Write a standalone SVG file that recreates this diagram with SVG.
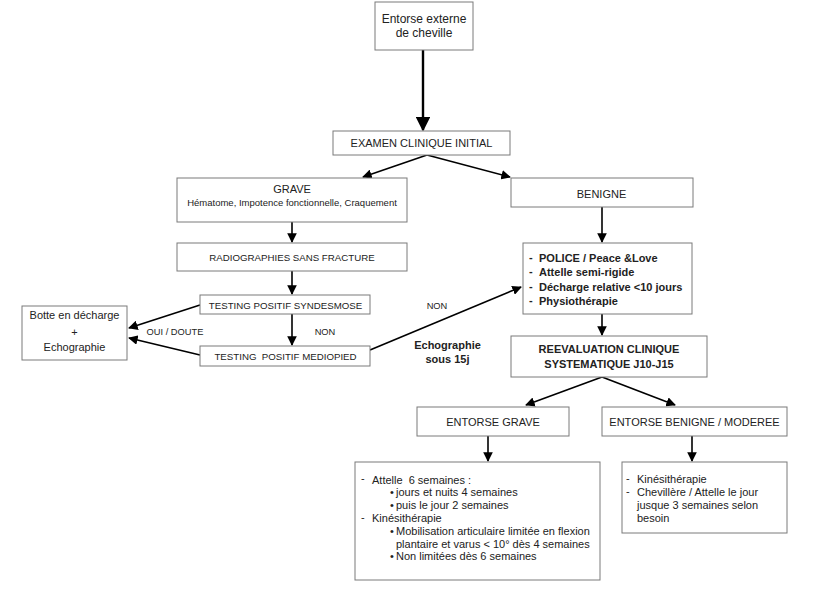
<svg xmlns="http://www.w3.org/2000/svg" width="820" height="600" viewBox="0 0 820 600">
<style>
  rect.box { fill: #ffffff; stroke: #7a7a7a; stroke-width: 1; }
  text { font-family: "Liberation Sans", Arial, Helvetica, sans-serif; fill: #222; }
  .t12 { font-size: 12px; }
  .t11 { font-size: 11px; }
  .t10 { font-size: 9.7px; }
  .t9 { font-size: 9.3px; }
  .b { font-weight: bold; font-size: 11px; }
  .c { text-anchor: middle; }
  .pre { white-space: pre; }
  .conn line { stroke: #000; stroke-width: 1.6; marker-end: url(#ah); }
</style>
<defs>
  <marker id="ah" viewBox="0 0 10 10" refX="9" refY="5" markerWidth="6" markerHeight="6" orient="auto" markerUnits="strokeWidth">
    <path d="M0,0 L10,5 L0,10 z" fill="#000"/>
  </marker>
</defs>
<rect width="820" height="600" fill="#ffffff"/>

<g id="connectors" class="conn">
  <line x1="423" y1="50" x2="423" y2="130" style="stroke-width:2.4"/>
  <line x1="427" y1="155" x2="363" y2="177"/>
  <line x1="427" y1="155" x2="510" y2="177"/>
  <line x1="292" y1="222" x2="292" y2="242"/>
  <line x1="292" y1="271" x2="292" y2="294"/>
  <line x1="292" y1="314" x2="292" y2="345"/>
  <line x1="200" y1="305" x2="129" y2="328"/>
  <line x1="200" y1="355" x2="129" y2="338"/>
  <line x1="370" y1="350" x2="521" y2="287"/>
  <line x1="602" y1="207" x2="602" y2="242"/>
  <line x1="602" y1="314" x2="602" y2="335"/>
  <line x1="602" y1="377" x2="526" y2="405"/>
  <line x1="602" y1="377" x2="675" y2="405"/>
  <line x1="488" y1="436" x2="488" y2="461"/>
  <line x1="692" y1="436" x2="692" y2="461"/>
</g>

<g id="edge-labels">
  <text class="t9 c" x="325" y="335">NON</text>
  <text class="t9 c" x="175" y="335">OUI / DOUTE</text>
  <text class="t9 c" x="437" y="309">NON</text>
  <text class="b c" x="447.5" y="349">Echographie</text>
  <text class="b c" x="447.5" y="363">sous 15j</text>
</g>

<g id="n-entorse">
  <rect class="box" x="375" y="2" width="98" height="48"/>
  <text class="t12 c" x="424" y="23">Entorse externe</text>
  <text class="t12 c" x="424" y="37">de cheville</text>
</g>

<g id="n-examen">
  <rect class="box" x="333" y="131" width="177" height="24"/>
  <text class="t11 c" x="421.5" y="147">EXAMEN CLINIQUE INITIAL</text>
</g>

<g id="n-grave">
  <rect class="box" x="177" y="178" width="230" height="44"/>
  <text class="t11 c" x="292" y="193">GRAVE</text>
  <text class="t10 c" x="292" y="206" style="font-size:9.5px">Hématome, Impotence fonctionnelle, Craquement</text>
</g>

<g id="n-radio">
  <rect class="box" x="177" y="243" width="230" height="28"/>
  <text class="t10 c" x="292" y="260.5">RADIOGRAPHIES SANS FRACTURE</text>
</g>

<g id="n-syndesmose">
  <rect class="box" x="200" y="295" width="170" height="19"/>
  <text class="t10 c" x="285.5" y="309">TESTING POSITIF SYNDESMOSE</text>
</g>

<g id="n-mediopied">
  <rect class="box" x="200" y="346" width="170" height="20"/>
  <text class="t10 c pre" x="285.5" y="359.5">TESTING  POSITIF MEDIOPIED</text>
</g>

<g id="n-botte">
  <rect class="box" x="22" y="306" width="105" height="54"/>
  <text class="t11 c" x="74.5" y="319">Botte en décharge</text>
  <text class="t11 c" x="74.5" y="336">+</text>
  <text class="t11 c" x="74.5" y="351">Echographie</text>
</g>

<g id="n-benigne">
  <rect class="box" x="511" y="178" width="182" height="29"/>
  <text class="t11 c" x="601.5" y="197.5">BENIGNE</text>
</g>

<g id="n-police">
  <rect class="box" x="523" y="243" width="169" height="71"/>
  <text class="b" x="529" y="261">-</text>
  <text class="b" x="539" y="262">POLICE / Peace &amp;Love</text>
  <text class="b" x="529" y="275">-</text>
  <text class="b" x="539" y="276">Attelle semi-rigide</text>
  <text class="b" x="529" y="290">-</text>
  <text class="b" x="539" y="291">Décharge relative &lt;10 jours</text>
  <text class="b" x="529" y="304">-</text>
  <text class="b" x="539" y="305">Physiothérapie</text>
</g>

<g id="n-reeval">
  <rect class="box" x="511" y="336" width="196" height="41"/>
  <text class="b c" x="609" y="353">REEVALUATION CLINIQUE</text>
  <text class="b c" x="609" y="368">SYSTEMATIQUE J10-J15</text>
</g>

<g id="n-entorse-grave">
  <rect class="box" x="417" y="407" width="152" height="29"/>
  <text class="t11 c" x="493" y="426">ENTORSE GRAVE</text>
</g>

<g id="n-entorse-benigne">
  <rect class="box" x="602" y="407" width="185" height="29"/>
  <text class="t11 c" x="694.5" y="426">ENTORSE BENIGNE / MODEREE</text>
</g>

<g id="n-traitement-grave">
  <rect class="box" x="355" y="462" width="245" height="118"/>
  <text class="t11" x="361" y="482">-</text>
  <text class="t11 pre" x="372" y="483.5">Attelle  6 semaines :</text>
  <text class="t11" x="390" y="496.3">•</text>
  <text class="t11" x="396" y="496.3">jours et nuits 4 semaines</text>
  <text class="t11" x="390" y="509.1">•</text>
  <text class="t11" x="396" y="509.1">puis le jour 2 semaines</text>
  <text class="t11" x="361" y="520.5">-</text>
  <text class="t11" x="372" y="521.9">Kinésithérapie</text>
  <text class="t11" x="390" y="534.7">•</text>
  <text class="t11" x="396" y="534.7">Mobilisation articulaire limitée en flexion</text>
  <text class="t11" x="396" y="547.5">plantaire et varus &lt; 10° dès 4 semaines</text>
  <text class="t11" x="390" y="560.3">•</text>
  <text class="t11" x="396" y="560.3">Non limitées dès 6 semaines</text>
</g>

<g id="n-traitement-benigne">
  <rect class="box" x="622" y="462" width="165" height="71"/>
  <text class="t11" x="626" y="481.5">-</text>
  <text class="t11" x="637" y="483">Kinésithérapie</text>
  <text class="t11" x="626" y="494.5">-</text>
  <text class="t11" x="637" y="496">Chevillère / Attelle le jour</text>
  <text class="t11" x="637" y="509">jusque 3 semaines selon</text>
  <text class="t11" x="637" y="521.5">besoin</text>
</g>
</svg>
